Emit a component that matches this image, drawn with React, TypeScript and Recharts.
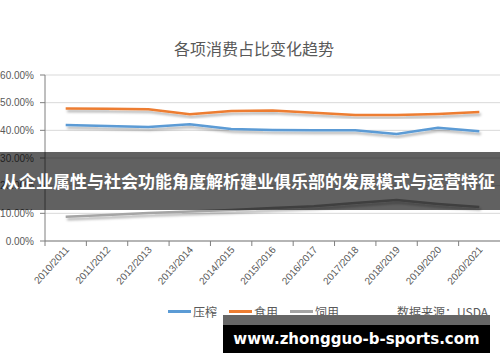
import { LineChart, Line, XAxis, YAxis, CartesianGrid } from "recharts";

const seasons = [
  "2010/2011", "2011/2012", "2012/2013", "2013/2014", "2014/2015", "2015/2016",
  "2016/2017", "2017/2018", "2018/2019", "2019/2020", "2020/2021",
];
const crush = [41.9, 41.6, 41.2, 42.2, 40.5, 40.1, 40.0, 40.0, 38.7, 40.9, 39.7];
const food = [47.9, 47.8, 47.6, 45.8, 47.0, 47.2, 46.4, 45.5, 45.5, 45.9, 46.6];
const feed = [8.8, 9.4, 10.1, 10.7, 11.2, 11.9, 12.6, 13.7, 14.8, 13.4, 12.3];
const yTicks = [0, 10, 20, 30, 40, 50, 60];

const seriesNames = ["压榨", "食用", "饲用"];
const seriesColors = ["#5b9bd5", "#ed7d31", "#a5a5a5"];

const data = seasons.map((s, i) => ({ season: s, crush: crush[i], food: food[i], feed: feed[i] }));

const W = 500;
const H = 362;
const AXIS_W = 45;
const step = (W - AXIS_W) / seasons.length;

const font = "'Noto Sans CJK SC', 'Noto Sans', sans-serif";

function XTick(props: any) {
  const { x, y, payload } = props;
  return (
    <g>
      <line x1={x - step / 2} x2={x - step / 2} y1={y} y2={y + 5} stroke="#7f7f7f" />
      <g transform={`translate(${x + 4},${y + 9}) rotate(-48)`}>
        <text
          x={0}
          y={0}
          textAnchor="end"
          fontSize={10}
          fill="#595959"
          fontFamily="'Liberation Sans', Arial, sans-serif"
        >
          {payload.value}
        </text>
      </g>
    </g>
  );
}

export default function App() {
  return (
    <div style={{ position: "absolute", left: 0, top: 0, width: W, height: H, background: "#fff", overflow: "hidden" }}>
      <div
        style={{
          position: "absolute", left: 0, top: 36, width: 508, textAlign: "center",
          fontFamily: font, fontSize: 16, color: "#595959",
        }}
      >
        各项消费占比变化趋势
      </div>
      <LineChart width={W} height={H} data={data} margin={{ top: 75, right: 0, left: 0, bottom: 61 }}>
        <defs>
          <filter id="shadow" x="-5%" y="-50%" width="110%" height="200%">
            <feDropShadow dx="1.5" dy="2.5" stdDeviation="1.2" floodColor="#000" floodOpacity="0.3" />
          </filter>
        </defs>
        <CartesianGrid vertical={false} stroke="#d9d9d9" />
        <XAxis
          dataKey="season"
          height={60}
          interval={0}
          tickSize={0}
          tickMargin={0}
          padding={{ left: step / 2, right: step / 2 }}
          stroke="#7f7f7f"
          tick={<XTick />}
        />
        <YAxis
          width={AXIS_W}
          domain={[0, 60]}
          ticks={yTicks}
          tickSize={5}
          tickMargin={6}
          stroke="#7f7f7f"
          tick={{ fontSize: 10, fill: "#595959", fontFamily: "'Liberation Sans', Arial, sans-serif" }}
          tickFormatter={(v: number) => `${v.toFixed(2)}%`}
        />
        <Line dataKey="crush" name={seriesNames[0]} stroke={seriesColors[0]} strokeWidth={2.5} dot={false} isAnimationActive={false} filter="url(#shadow)" />
        <Line dataKey="food" name={seriesNames[1]} stroke={seriesColors[1]} strokeWidth={2.5} dot={false} isAnimationActive={false} filter="url(#shadow)" />
        <Line dataKey="feed" name={seriesNames[2]} stroke={seriesColors[2]} strokeWidth={2.5} dot={false} isAnimationActive={false} filter="url(#shadow)" />
      </LineChart>

      <div
        style={{
          position: "absolute", top: 303, left: 168, display: "flex", alignItems: "center",
          fontFamily: font, fontSize: 12, color: "#595959", whiteSpace: "nowrap",
        }}
      >
        {seriesNames.map((n, i) => (
          <span key={n} style={{ display: "flex", alignItems: "center", marginRight: 12 }}>
            <span style={{ display: "inline-block", width: 23, height: 2.5, background: seriesColors[i], marginRight: 2 }} />
            {n}
          </span>
        ))}
        <span style={{ marginLeft: 46 }}>数据来源：USDA</span>
      </div>

      <div
        style={{
          position: "absolute", left: 0, top: 152, width: 498, height: 58,
          background: "rgba(0,0,0,0.62)", color: "#fff", fontFamily: font, fontWeight: 700,
          fontSize: 17, lineHeight: "58px", whiteSpace: "nowrap", paddingLeft: 2,
        }}
      >
        从企业属性与社会功能角度解析建业俱乐部的发展模式与运营特征
      </div>

      <div style={{ position: "absolute", left: 223, top: 315, width: 267, height: 10, background: "#666" }} />
      <div
        style={{
          position: "absolute", left: 223, top: 325, width: 267, height: 28, background: "#000",
          color: "#fff", fontFamily: "'DejaVu Sans', sans-serif", fontWeight: 700, fontSize: 15,
          textAlign: "center", lineHeight: "28px", whiteSpace: "nowrap",
        }}
      >
        www.zhongguo-b-sports.com
      </div>
    </div>
  );
}
